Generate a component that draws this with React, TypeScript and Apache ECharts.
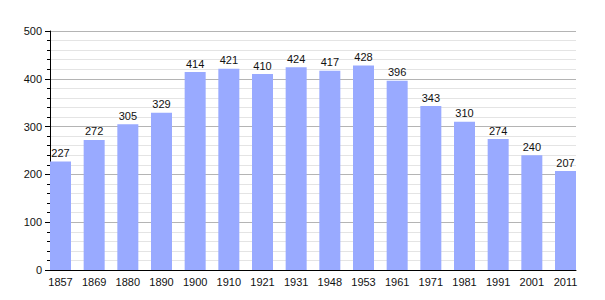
import React, { useEffect, useRef } from "react";
import * as echarts from "echarts";

const years = ["1857", "1869", "1880", "1890", "1900", "1910", "1921", "1931", "1948", "1953", "1961", "1971", "1981", "1991", "2001", "2011"];
const population = [227, 272, 305, 329, 414, 421, 410, 424, 417, 428, 396, 343, 310, 274, 240, 207];
const yTicks = { min: 0, max: 500, interval: 100 };

export default function App() {
  const ref = useRef<HTMLDivElement>(null);
  useEffect(() => {
    if (!ref.current) return;
    const chart = echarts.init(ref.current, null, { renderer: "svg" });
    const font = "Liberation Sans, Arial, sans-serif";
    chart.setOption({
      animation: false,
      backgroundColor: "#ffffff",
      grid: [
        { left: 60.5, right: 39.5, top: 31, bottom: 30 },
        { left: 50, right: 29, top: 31, bottom: 30 },
      ],
      xAxis: [
        {
          type: "category",
          gridIndex: 0,
          data: years,
          boundaryGap: false,
          axisLine: { show: false },
          axisTick: { show: false },
          splitLine: { show: false },
          axisLabel: { color: "#111", fontSize: 11, fontFamily: font, margin: 6, interval: 0 },
        },
        {
          type: "value",
          gridIndex: 1,
          min: 0,
          max: 1,
          axisLine: { show: true, lineStyle: { color: "#000", width: 1 } },
          axisTick: { show: false },
          axisLabel: { show: false },
          splitLine: { show: false },
        },
      ],
      yAxis: [
        {
          type: "value",
          gridIndex: 0,
          min: yTicks.min,
          max: yTicks.max,
          interval: yTicks.interval,
          show: false,
        },
        {
          type: "value",
          gridIndex: 1,
          min: yTicks.min,
          max: yTicks.max,
          interval: yTicks.interval,
          axisLine: { show: true, lineStyle: { color: "#000", width: 1 } },
          axisTick: { show: true, length: 5, lineStyle: { color: "#000" } },
          minorTick: { show: true, splitNumber: 5, length: 3, lineStyle: { color: "#000" } },
          axisLabel: { color: "#111", fontSize: 11, fontFamily: font, margin: 8 },
          splitLine: { show: true, lineStyle: { color: "#b4b4b4", width: 1 } },
          minorSplitLine: { show: true, lineStyle: { color: "#e4e4e4", width: 1 } },
        },
      ],
      series: [
        {
          type: "bar",
          xAxisIndex: 0,
          yAxisIndex: 0,
          data: population,
          barWidth: 21,
          itemStyle: { color: "#99aaff" },
          label: {
            show: true,
            position: "top",
            distance: 3,
            color: "#111",
            fontSize: 11,
            fontFamily: font,
          },
        },
      ],
    });
    return () => chart.dispose();
  }, []);
  return <div ref={ref} style={{ width: 605, height: 300, position: "absolute", left: 0, top: 0 }} />;
}
